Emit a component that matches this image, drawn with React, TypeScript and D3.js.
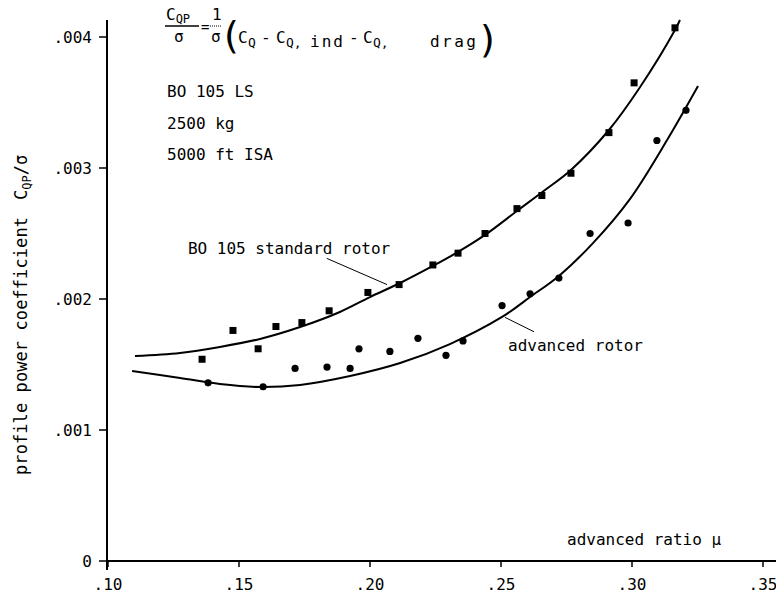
import * as d3 from 'd3';

// measured points, BO 105 standard rotor (squares)
const muStd = [0.1359, 0.1477, 0.1573, 0.1641, 0.174, 0.1844, 0.1992, 0.2111, 0.224, 0.2336, 0.2439, 0.2561, 0.2656, 0.2767, 0.2912, 0.3008, 0.3164];
const cqpStd = [0.00154, 0.00176, 0.00162, 0.00179, 0.00182, 0.00191, 0.00205, 0.00211, 0.00226, 0.00235, 0.0025, 0.00269, 0.00279, 0.00296, 0.00327, 0.00365, 0.00407];

// measured points, advanced rotor (circles)
const muAdv = [0.1382, 0.1592, 0.1714, 0.1836, 0.1924, 0.1958, 0.2076, 0.2183, 0.229, 0.2355, 0.2504, 0.2611, 0.2721, 0.284, 0.2985, 0.3095, 0.3206];
const cqpAdv = [0.00136, 0.00133, 0.00147, 0.00148, 0.00147, 0.00162, 0.0016, 0.0017, 0.00157, 0.00168, 0.00195, 0.00204, 0.00216, 0.0025, 0.00258, 0.00321, 0.00344];

// faired curves
const fitMuStd = [0.1103, 0.1275, 0.1427, 0.158, 0.1733, 0.1885, 0.2, 0.2115, 0.224, 0.2336, 0.2439, 0.2561, 0.2668, 0.2767, 0.2912, 0.3031, 0.3164, 0.3183];
const fitCqpStd = [0.001565, 0.001588, 0.001634, 0.001695, 0.001786, 0.001901, 0.002015, 0.002122, 0.002252, 0.002359, 0.002489, 0.002672, 0.002832, 0.002985, 0.00329, 0.003618, 0.004053, 0.00413];
const fitMuAdv = [0.1092, 0.1275, 0.1427, 0.158, 0.1733, 0.1924, 0.2115, 0.2305, 0.2504, 0.2611, 0.2721, 0.2851, 0.2992, 0.3134, 0.3252];
const fitCqpAdv = [0.00145, 0.001397, 0.001351, 0.001328, 0.001344, 0.001412, 0.001511, 0.001656, 0.001863, 0.002015, 0.002176, 0.002427, 0.002763, 0.003214, 0.003626];

const xTicks = [0.1, 0.15, 0.2, 0.25, 0.3, 0.35];
const xTickLabels = ['.10', '.15', '.20', '.25', '.30', '.35'];
const yTicks = [0, 0.001, 0.002, 0.003, 0.004];
const yTickLabels = ['0', '.001', '.002', '.003', '.004'];

const infoLines = ['BO 105 LS', '2500 kg', '5000 ft ISA'];

const FONT = '"DejaVu Sans Mono", "Liberation Mono", monospace';

export default function App() {
  const width = 776;
  const height = 596;

  const x = d3.scaleLinear().domain([0.1, 0.35]).range([108, 763]);
  const y = d3.scaleLinear().domain([0, 0.004]).range([561, 37]);

  const line = d3.line<[number, number]>()
    .x(d => x(d[0]))
    .y(d => y(d[1]))
    .curve(d3.curveCatmullRom.alpha(0.5));

  const stdFit = fitMuStd.map((m, i) => [m, fitCqpStd[i]] as [number, number]);
  const advFit = fitMuAdv.map((m, i) => [m, fitCqpAdv[i]] as [number, number]);

  const x0 = x(0.1) - 1;
  const y0 = y(0);

  return (
    <svg width={width} height={height} style={{ position: 'absolute', left: 0, top: 0, background: '#fff' }}
      fontFamily={FONT} fill="#000">
      {/* axes */}
      <line x1={x0} x2={width} y1={y0} y2={y0} stroke="#000" strokeWidth={2} />
      <line x1={x0} x2={x0} y1={20} y2={y0 + 9} stroke="#000" strokeWidth={2} />
      {yTicks.map((t, i) => (
        <g key={'y' + i}>
          <line x1={x0 - 8} x2={x0} y1={y(t)} y2={y(t)} stroke="#000" strokeWidth={1.5} />
          <text x={x0 - 15} y={y(t)} dy="0.35em" textAnchor="end" fontSize={16}>{yTickLabels[i]}</text>
        </g>
      ))}
      {xTicks.map((t, i) => (
        <g key={'x' + i}>
          <line x1={x(t)} x2={x(t)} y1={y0} y2={y0 + 6} stroke="#000" strokeWidth={1.5} />
          <text x={x(t)} y={590} textAnchor="middle" fontSize={16}>{xTickLabels[i]}</text>
        </g>
      ))}

      {/* axis titles */}
      <text x={567} y={545} fontSize={16}>advanced ratio  μ</text>
      <g transform="translate(27,475) rotate(-90)" fontSize={17}>
        <text x={0} y={0} textLength={258} lengthAdjust="spacing">profile power coefficient</text>
        <text x={275} y={0}>C<tspan fontSize={12} dy={4}>QP</tspan><tspan dy={-4}>/σ</tspan></text>
      </g>

      {/* faired curves */}
      <path d={line(stdFit) || ''} fill="none" stroke="#000" strokeWidth={2} />
      <path d={line(advFit) || ''} fill="none" stroke="#000" strokeWidth={2} />

      {/* data points */}
      {muStd.map((m, i) => (
        <rect key={'s' + i} x={x(m) - 3.5} y={y(cqpStd[i]) - 3.5} width={7} height={7} fill="#000" />
      ))}
      {muAdv.map((m, i) => (
        <circle key={'c' + i} cx={x(m)} cy={y(cqpAdv[i])} r={3.6} fill="#000" />
      ))}

      {/* curve labels */}
      <text x={x(0.1305)} y={y(0.00234)} fontSize={16}>BO 105 standard rotor</text>
      <line x1={x(0.1835)} y1={y(0.00231)} x2={x(0.2065)} y2={y(0.00211)} stroke="#000" strokeWidth={1} />
      <text x={x(0.2527)} y={y(0.0016)} fontSize={16}>advanced rotor</text>
      <line x1={x(0.2515)} y1={y(0.00186)} x2={x(0.2626)} y2={y(0.00175)} stroke="#000" strokeWidth={1} />

      {/* formula */}
      <g fontSize={16}>
        <text x={166} y={20}>C<tspan fontSize={12} dy={3}>QP</tspan></text>
        <line x1={165} x2={199} y1={26} y2={26} stroke="#000" strokeWidth={1.5} />
        <text x={174} y={42}>σ</text>
        <text x={201} y={32} fontSize={14}>=</text>
        <text x={212} y={20}>1</text>
        <line x1={210} x2={222} y1={26} y2={26} stroke="#000" strokeWidth={1} strokeDasharray="1,1" />
        <text x={211} y={42}>σ</text>
        <text x={224} y={48} fontSize={38} fontFamily="DejaVu Sans">(</text>
        <text x={238} y={43}>C</text>
        <text x={248} y={47} fontSize={13}>Q</text>
        <text x={261} y={43}>-</text>
        <text x={276} y={43}>C</text>
        <text x={286} y={47} fontSize={13}>Q,</text>
        <text x={310} y={47} textLength={33}>ind</text>
        <text x={349} y={43}>-</text>
        <text x={363} y={43}>C</text>
        <text x={373} y={47} fontSize={13}>Q,</text>
        <text x={430} y={47} textLength={46}>drag</text>
        <text x={480} y={52} fontSize={38} fontFamily="DejaVu Sans">)</text>
      </g>

      {/* conditions */}
      {infoLines.map((s, i) => (
        <text key={'i' + i} x={167} y={97 + i * 31.5} fontSize={16}>{s}</text>
      ))}
    </svg>
  );
}
